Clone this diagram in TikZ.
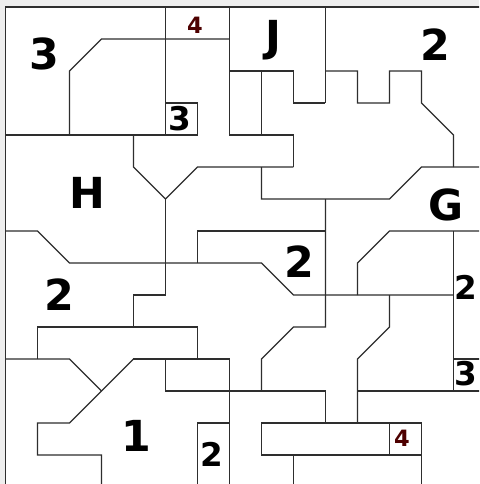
\documentclass[tikz,border=0pt]{standalone}
\usepackage{fontspec}
\setmainfont{DejaVu Sans}
\definecolor{wallgray}{HTML}{2E2E2E}
\definecolor{margingray}{HTML}{EEEEEE}
\definecolor{tagred}{HTML}{4E0000}

\begin{document}
\begin{tikzpicture}[x=1cm,y=1cm,
  wall/.style={draw=wallgray,line width=1.1pt},
  bigtag/.style={font=\bfseries\fontsize{38}{38}\selectfont,inner sep=0pt},
  midtag/.style={font=\bfseries\fontsize{29}{29}\selectfont,inner sep=0pt},
  redtag/.style={font=\bfseries\fontsize{20}{20}\selectfont,inner sep=0pt,text=tagred}]
\useasboundingbox (-0.17,0.22) rectangle (14.8,-14.905); %Page size, one grid square is 32px
\clip (-0.17,0.22) rectangle (14.8,-14.905); %Right and bottom edge of the frame fall outside
\fill[margingray] (-0.17,0.22) rectangle (14.8,-14.905); %Grey margin
\fill[white] (0,0) rectangle (15,-15); %Inside of the frame
\draw[wall] (0,0) rectangle (15,-15); %Frame
% top rows
\draw[wall] (2,-4) -- (2,-2) -- (3,-1) -- (7,-1); %Room 3
\draw[wall] (5,0) -- (5,-4);
\draw[wall] (7,0) -- (7,-4) -- (9,-4) -- (9,-5);
\draw[wall] (7,-2) -- (9,-2) -- (9,-3) -- (10,-3);
\draw[wall] (8,-2) -- (8,-4);
\draw[wall] (10,0) -- (10,-3);
\draw[wall] (10,-2) -- (11,-2) -- (11,-3) -- (12,-3) -- (12,-2) -- (13,-2) -- (13,-3) -- (14,-4) -- (14,-5); %Battlement wall
\draw[wall] (0,-4) -- (6,-4) -- (6,-3) -- (5,-3); %Small box 3
% middle rows
\draw[wall] (4,-4) -- (4,-5) -- (5,-6) -- (6,-5) -- (9,-5); %Y junction
\draw[wall] (5,-6) -- (5,-9) -- (4,-9) -- (4,-10);
\draw[wall] (8,-5) -- (8,-6) -- (12,-6) -- (13,-5) -- (15,-5);
\draw[wall] (10,-6) -- (10,-10) -- (9,-10) -- (8,-11) -- (8,-12);
\draw[wall] (6,-8) -- (6,-7) -- (10,-7);
\draw[wall] (0,-7) -- (1,-7) -- (2,-8) -- (8,-8) -- (9,-9) -- (14,-9);
\draw[wall] (11,-9) -- (11,-8) -- (12,-7) -- (15,-7);
\draw[wall] (14,-7) -- (14,-12);
\draw[wall] (12,-9) -- (12,-10) -- (11,-11) -- (11,-13);
\draw[wall] (14,-11) -- (15,-11); %Small box 3 right
\draw[wall] (11,-12) -- (15,-12);
% bottom rows
\draw[wall] (1,-11) -- (1,-10) -- (6,-10) -- (6,-11);
\draw[wall] (0,-11) -- (2,-11) -- (3,-12);
\draw[wall] (4,-11) -- (2,-13) -- (1,-13) -- (1,-14) -- (3,-14) -- (3,-15);
\draw[wall] (4,-11) -- (7,-11) -- (7,-15);
\draw[wall] (5,-11) -- (5,-12) -- (10,-12) -- (10,-13);
\draw[wall] (6,-15) -- (6,-13) -- (7,-13); %Small box 2
\draw[wall] (8,-13) rectangle (13,-14); %Long box
\draw[wall] (12,-13) -- (12,-14); %Small box 4
\draw[wall] (9,-14) -- (9,-15);
\draw[wall] (13,-14) -- (13,-15);
% labels
\node[bigtag] (tagthree) at (1.23,-1.48) {3};
\node[redtag] (tagfourtop) at (5.92,-0.56) {4};
\node[midtag] (tagthreesmall) at (5.45,-3.5) {3};
\node[bigtag] (tagJ) at (8.39,-1.03) {J};
\node[bigtag] (tagtwone) at (13.45,-1.19) {2};
\node[bigtag] (tagH) at (2.55,-5.8) {H};
\node[bigtag] (tagG) at (13.77,-6.2) {G};
\node[bigtag] (tagtwomid) at (9.17,-7.95) {2};
\node[bigtag] (tagtwowest) at (1.7,-9.0) {2};
\node[midtag] (tagtwoeast) at (14.39,-8.77) {2};
\node[midtag] (tagthreeeast) at (14.4,-11.45) {3};
\node[bigtag] (tagone) at (4.08,-13.4) {1};
\node[midtag] (tagtwosmall) at (6.45,-13.97) {2};
\node[redtag] (tagfourbottom) at (12.39,-13.47) {4};
\end{tikzpicture}
\end{document}
